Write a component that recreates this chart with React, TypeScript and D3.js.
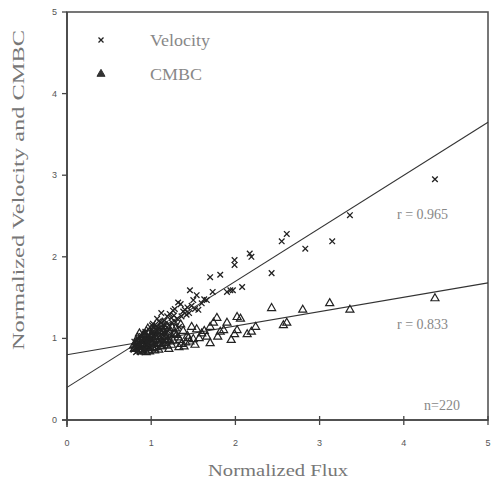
import React from "react";
import * as d3 from "d3";

const xTicks = [0, 1, 2, 3, 4, 5];
const yTicks = [0, 1, 2, 3, 4, 5];

// Velocity series (normalized flux, normalized velocity)
const velocityX = [
  4.37, 3.36, 3.15, 2.83, 2.61, 2.55, 2.43, 2.17, 2.19, 1.99, 1.99, 1.82, 1.70, 2.08, 1.97, 1.90, 1.73, 1.46, 1.54, 1.94,
  1.60, 1.66, 1.50, 1.43, 1.35, 1.28, 1.22, 1.31, 1.38, 1.25, 1.19, 1.42, 1.33, 1.27, 1.21, 1.16, 1.12, 1.18, 1.09, 1.14,
  1.06, 1.03, 1.08, 1.11, 1.01, 0.98, 1.04, 0.96, 0.93, 0.99, 0.91, 0.88, 0.95, 0.86, 0.83, 0.90, 0.81, 0.79, 0.85, 0.87,
  0.92, 0.97, 1.00, 1.02, 1.05, 1.07, 1.10, 1.13, 0.94, 0.89, 0.84, 0.82, 0.80, 0.86, 0.91, 0.95, 1.00, 1.04, 1.09, 1.15,
  1.20, 1.24, 1.29, 1.36, 1.40, 1.48, 1.56, 1.63, 0.88, 0.93, 0.98, 1.03, 1.12, 1.17, 1.23, 0.97, 1.01, 1.06, 0.84, 0.90,
  1.26, 1.32, 1.45, 1.52, 1.18, 1.08, 0.96, 0.92, 1.14, 0.87
];
const velocityY = [
  2.95, 2.51, 2.19, 2.10, 2.28, 2.19, 1.80, 2.04, 2.00, 1.96, 1.90, 1.78, 1.75, 1.63, 1.59, 1.57, 1.57, 1.59, 1.53, 1.59,
  1.43, 1.47, 1.47, 1.38, 1.42, 1.36, 1.30, 1.24, 1.33, 1.19, 1.27, 1.29, 1.14, 1.28, 1.16, 1.22, 1.19, 1.08, 1.13, 1.04,
  1.15, 1.09, 1.01, 0.97, 1.05, 0.99, 0.93, 1.02, 0.94, 0.88, 0.99, 0.92, 0.86, 0.95, 0.88, 0.84, 0.91, 0.86, 0.99, 0.83,
  1.06, 1.11, 0.91, 1.18, 0.96, 1.24, 1.03, 1.10, 0.91, 1.03, 0.92, 0.83, 0.96, 0.89, 0.87, 0.98, 1.01, 1.02, 1.21, 1.17,
  1.12, 1.25, 1.20, 1.27, 1.35, 1.40, 1.35, 1.48, 0.97, 1.08, 0.97, 1.13, 1.31, 1.11, 1.06, 0.95, 1.16, 0.87, 0.85, 0.90,
  1.34, 1.44, 1.31, 1.36, 1.00, 1.08, 0.93, 0.87, 1.07, 0.93
];

// CMBC series (normalized flux, normalized CMBC)
const cmbcX = [
  4.37, 3.36, 3.12, 2.80, 2.61, 2.57, 2.43, 2.02, 2.06, 2.19, 2.14, 1.99, 2.02, 1.78, 1.90, 1.70, 1.82, 1.79, 1.66, 1.70,
  1.46, 1.54, 1.60, 1.48, 1.52, 1.43, 1.38, 1.41, 1.35, 1.32, 1.29, 1.26, 1.33, 1.22, 1.19, 1.24, 1.16, 1.13, 1.18, 1.10,
  1.07, 1.12, 1.04, 1.01, 1.08, 0.98, 0.95, 1.02, 0.93, 0.90, 0.96, 0.87, 0.85, 0.91, 0.82, 0.80, 0.88, 0.84, 0.79, 0.94,
  0.99, 1.05, 1.09, 1.14, 1.20, 1.27, 1.36, 1.44, 0.86, 0.92, 0.97, 1.03, 1.06, 1.11, 1.15, 1.21, 1.30, 1.39, 1.57, 1.63,
  0.83, 0.89, 0.95, 1.00, 1.08, 1.17, 1.25, 1.34, 0.81, 0.87, 0.93, 0.98, 1.02, 1.13, 1.23, 1.50, 1.74, 1.86, 1.95, 2.24,
  0.90, 0.96, 1.04, 1.12, 1.19, 1.28, 0.85, 1.00, 1.10, 1.16
];
const cmbcY = [
  1.49, 1.35, 1.43, 1.35, 1.19, 1.16, 1.37, 1.26, 1.24, 1.08, 1.05, 1.05, 1.10, 1.25, 1.19, 1.14, 1.08, 1.02, 1.02, 0.94,
  0.96, 1.11, 1.06, 1.14, 0.92, 1.03, 1.09, 0.95, 1.17, 1.01, 1.12, 0.97, 0.89, 1.07, 1.15, 0.92, 1.03, 1.18, 0.96, 1.09,
  0.99, 0.90, 1.13, 1.03, 0.94, 1.08, 0.97, 0.88, 1.05, 0.93, 1.12, 0.99, 0.89, 1.04, 0.95, 0.87, 0.84, 1.01, 0.91, 0.83,
  0.96, 1.02, 0.86, 1.08, 0.98, 1.05, 0.93, 1.00, 1.06, 0.97, 0.85, 1.10, 0.89, 1.15, 0.94, 0.87, 1.04, 0.90, 1.00, 1.09,
  0.92, 0.86, 1.00, 0.95, 1.07, 1.01, 1.13, 0.98, 0.88, 0.94, 0.90, 0.84, 0.99, 0.91, 0.96, 0.99, 1.19, 1.10, 0.98, 1.14,
  1.02, 0.90, 0.85, 0.97, 0.91, 1.06, 0.97, 1.04, 0.93, 0.99
];

// Regression lines: intercept, slope
const velocityFit = [0.40, 0.65];
const cmbcFit = [0.80, 0.176];
const stats = ["r = 0.965", "r = 0.833", "n=220"];
const legendLabels = ["Velocity", "CMBC"];

const SERIF = "'Liberation Serif', 'Times New Roman', serif";
const SANS = "'Liberation Sans', Arial, sans-serif";

export default function App() {
  const x = d3.scaleLinear().domain([0, 5]).range([67, 488]);
  const y = d3.scaleLinear().domain([0, 5]).range([420, 12]);

  const fitPath = (fit: number[]) =>
    d3.line<number>().x((d) => x(d)).y((d) => y(fit[0] + fit[1] * d))([0, 5]) || "";

  const ink = "#222";
  const xMark = (cx: number, cy: number, s: number, key: any) => (
    <path
      key={key}
      d={`M${cx - s},${cy - s}L${cx + s},${cy + s}M${cx - s},${cy + s}L${cx + s},${cy - s}`}
      stroke={ink}
      strokeWidth={1.3}
      fill="none"
    />
  );
  const triPath = d3.symbol().type(d3.symbolTriangle).size(28)() || "";

  return (
    <svg
      width={493}
      height={482}
      style={{ position: "absolute", left: 0, top: 0, background: "#fff" }}
    >
      {/* frame */}
      <rect x={67} y={12} width={421} height={408} fill="none" stroke="#555" strokeWidth={1.6} />
      <line x1={67} x2={67} y1={12} y2={427} stroke="#444" strokeWidth={1.6} />
      <line x1={62} x2={488} y1={420} y2={420} stroke="#444" strokeWidth={1.6} />

      {/* x ticks */}
      {xTicks.map((t) => (
        <g key={"xt" + t}>
          <line x1={x(t)} x2={x(t)} y1={416} y2={425} stroke="#444" strokeWidth={1.3} />
          <text x={x(t)} y={446} fontFamily={SANS} fontSize={9} fill="#555" textAnchor="middle">
            {t}
          </text>
        </g>
      ))}
      {/* y ticks */}
      {yTicks.map((t) => (
        <g key={"yt" + t}>
          <line x1={62} x2={67} y1={y(t)} y2={y(t)} stroke="#444" strokeWidth={1.3} />
          <text x={57} y={y(t) + 3} fontFamily={SANS} fontSize={9} fill="#555" textAnchor="end">
            {t}
          </text>
        </g>
      ))}

      {/* regression lines */}
      <path d={fitPath(velocityFit)} stroke="#333" strokeWidth={1.1} fill="none" />
      <path d={fitPath(cmbcFit)} stroke="#333" strokeWidth={1.1} fill="none" />

      {/* points */}
      {cmbcX.map((vx, i) => (
        <path
          key={"c" + i}
          d={triPath}
          transform={`translate(${x(vx)},${y(cmbcY[i])})`}
          fill="none"
          stroke={ink}
          strokeWidth={1.2}
        />
      ))}
      {velocityX.map((vx, i) => xMark(x(vx), y(velocityY[i]), 2.8, "v" + i))}

      {/* legend */}
      {xMark(101, 40, 2.5, "lv")}
      <path d={triPath} transform="translate(101,74)" fill="#333" stroke="#333" />
      <text x={150} y={46} fontFamily={SERIF} fontSize={16} fill="#888" textLength={60} lengthAdjust="spacingAndGlyphs">
        {legendLabels[0]}
      </text>
      <text x={150} y={80} fontFamily={SERIF} fontSize={16} fill="#888" textLength={52} lengthAdjust="spacingAndGlyphs">
        {legendLabels[1]}
      </text>

      {/* stats */}
      <text x={397} y={219} fontFamily={SERIF} fontSize={14} fill="#888">
        {stats[0]}
      </text>
      <text x={397} y={329} fontFamily={SERIF} fontSize={14} fill="#888">
        {stats[1]}
      </text>
      <text x={424} y={410} fontFamily={SERIF} fontSize={14} fill="#888">
        {stats[2]}
      </text>

      {/* axis titles */}
      <text
        x={278}
        y={476}
        fontFamily={SERIF}
        fontSize={16}
        fill="#777"
        textAnchor="middle"
        textLength={140}
        lengthAdjust="spacingAndGlyphs"
      >
        Normalized Flux
      </text>
      <text
        transform="translate(24,190) rotate(-90)"
        fontFamily={SERIF}
        fontSize={16}
        fill="#777"
        textAnchor="middle"
        textLength={320}
        lengthAdjust="spacingAndGlyphs"
      >
        Normalized Velocity and CMBC
      </text>
    </svg>
  );
}
